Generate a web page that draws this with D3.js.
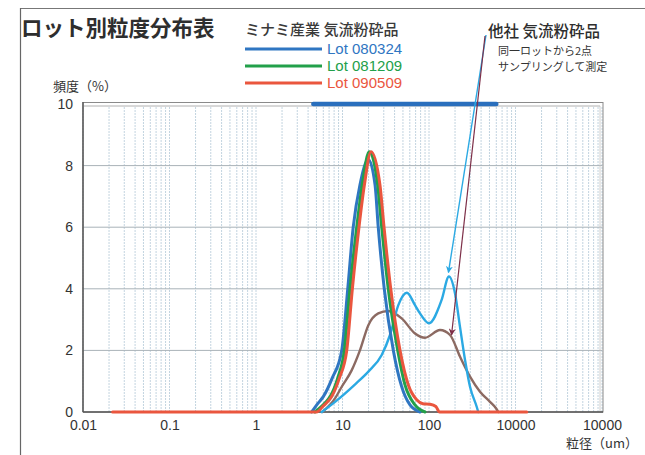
<!DOCTYPE html>
<html>
<head>
<meta charset="utf-8">
<script src="https://cdn.jsdelivr.net/npm/d3@7"></script>
<style>
  html, body { margin: 0; padding: 0; background: #fff; }
  svg text { font-family: "Liberation Sans", Arial, "Noto Sans CJK JP", sans-serif; }
  .jp { font-family: "Noto Sans CJK JP", sans-serif; }
</style>
</head>
<body>
<div id="chart"></div>
<script>
// particle size (um) / frequency (%)
const xTickValues = [0.01, 0.1, 1, 10, 100, 1000, 10000];
const xTickLabels = ["0.01", "0.1", "1", "10", "100", "10000", "10000"];
const yTickValues = [0, 2, 4, 6, 8, 10];

const legendLabels = ["Lot 080324", "Lot 081209", "Lot 090509"];

const lot080324 = [[4.4, 0], [5.2, 0.28], [6.0, 0.5], [7.6, 1.1], [9.8, 2.0], [11.5, 4.0], [13.3, 6.0],
  [15.9, 7.37], [19.9, 8.2], [23.8, 7.37], [25.9, 6.0], [30.4, 4.0], [38.7, 2.0], [48, 0.85],
  [60.3, 0.23], [78.7, 0]];

const lot081209 = [[4.8, 0], [6.3, 0.3], [7.2, 0.5], [8.8, 1.1], [10.5, 2.0], [12.2, 4.0], [14.6, 6.0],
  [16.9, 7.37], [20.4, 8.45], [25.5, 7.37], [28.4, 6.0], [33.8, 4.0], [43.5, 2.0], [52.8, 0.88],
  [68.9, 0.23], [89.9, 0]];

const lot090509 = [[0.022, 0], [5.0, 0], [6.0, 0.2], [7.5, 0.5], [9.2, 1.1], [11.2, 2.0], [13.0, 4.0],
  [15.5, 6.0], [17.9, 7.37], [21.4, 8.45], [27.1, 7.37], [30.2, 6.0], [36.1, 4.0], [46.2, 2.0],
  [57.7, 0.88], [72, 0.4], [85, 0.27], [103, 0.25], [120, 0.18], [132, 0], [1350, 0]];

// other company, two samples from the same lot
const otherSampleA = [[5.75, 0], [8.2, 0.33], [14, 0.9], [19.9, 1.31], [28.4, 1.85], [35.4, 2.5],
  [44.2, 3.47], [55.5, 3.87], [68.9, 3.47], [78.7, 3.2], [100, 2.88], [140, 3.64], [170, 4.4],
  [200, 3.85], [228, 2.77], [261, 1.69], [298, 0.82], [356, 0.17], [371, 0]];

const otherSampleB = [[5.84, 0], [8.2, 0.44], [9.8, 0.82], [12.8, 1.36], [15.9, 2.0], [19.9, 2.82],
  [25.9, 3.2], [33.8, 3.28], [48.3, 3.04], [68.9, 2.55], [90, 2.41], [134, 2.66], [175, 2.5],
  [228, 1.8], [298, 1.15], [389, 0.66], [507, 0.33], [595, 0.12], [633, 0]];

// blue line running along the top edge at 10 %
const topBar = [[4.6, 10], [600, 10]];

// arrow targets
const arrowTargetA = [170, 4.4];
const arrowTargetB = [175, 2.5];

const W = 645, H = 455;
const plot = { left: 83, right: 602, top: 104, bottom: 412 };

const colors = {
  lotBlue: "#2f76c2", lotGreen: "#22a04a", lotRed: "#ea563e",
  otherA: "#2ba9e3", otherB: "#8c6a62", arrowB: "#7d2f48"
};

const svg = d3.select("#chart").append("svg")
  .attr("width", W)
  .attr("height", H);

// page frame (scan edge)
svg.append("line").attr("x1", 20).attr("x2", 645).attr("y1", 8.5).attr("y2", 8.5)
  .attr("stroke", "#777").attr("stroke-width", 1.2);
svg.append("line").attr("x1", 20.5).attr("x2", 20.5).attr("y1", 8).attr("y2", H)
  .attr("stroke", "#666").attr("stroke-width", 1.2);

const x = d3.scaleLog().domain([0.01, 10000]).range([plot.left, plot.right]);
const y = d3.scaleLinear().domain([0, 10]).range([plot.bottom, plot.top]);

// grid
svg.append("g").selectAll("line")
  .data(x.ticks())
  .join("line")
  .attr("x1", d => x(d)).attr("x2", d => x(d))
  .attr("y1", plot.top + 3).attr("y2", plot.bottom)
  .attr("stroke", "#bccfdc").attr("stroke-width", 0.9)
  .attr("stroke-dasharray", "2,1");

svg.append("g").selectAll("line")
  .data([2, 4, 6, 8])
  .join("line")
  .attr("x1", plot.left).attr("x2", plot.right)
  .attr("y1", d => y(d)).attr("y2", d => y(d))
  .attr("stroke", "#a9b2b8").attr("stroke-width", 1);

// frame: double line on top and right, dark axis lines left and bottom
svg.append("rect")
  .attr("x", plot.left).attr("y", plot.top - 1.5)
  .attr("width", plot.right - plot.left + 1).attr("height", plot.bottom - plot.top + 1.5)
  .attr("fill", "none").attr("stroke", "#8a8a8a").attr("stroke-width", 1);
svg.append("line").attr("x1", plot.left).attr("x2", plot.right - 2)
  .attr("y1", plot.top + 2).attr("y2", plot.top + 2)
  .attr("stroke", "#b0b0b0").attr("stroke-width", 1);
svg.append("line").attr("x1", plot.right - 2).attr("x2", plot.right - 2)
  .attr("y1", plot.top + 2).attr("y2", plot.bottom)
  .attr("stroke", "#c4c4c4").attr("stroke-width", 0.8);
svg.append("line").attr("x1", plot.left).attr("x2", plot.left)
  .attr("y1", plot.top - 2).attr("y2", plot.bottom)
  .attr("stroke", "#555").attr("stroke-width", 1.4);
svg.append("line").attr("x1", plot.left).attr("x2", plot.right + 1)
  .attr("y1", plot.bottom).attr("y2", plot.bottom)
  .attr("stroke", "#555").attr("stroke-width", 1.4);

// axes (labels only)
const yAxis = svg.append("g")
  .attr("transform", `translate(${plot.left},0)`)
  .call(d3.axisLeft(y).tickValues(yTickValues).tickSize(0).tickPadding(10).tickFormat(d3.format("d")));
yAxis.select(".domain").remove();
yAxis.selectAll("text").attr("font-size", 14).attr("fill", "#333")
  .attr("font-family", "'Liberation Sans', Arial, sans-serif");

const xAxis = svg.append("g")
  .attr("transform", `translate(0,${plot.bottom})`)
  .call(d3.axisBottom(x).tickValues(xTickValues).tickSize(0).tickPadding(8)
    .tickFormat((d, i) => xTickLabels[i]));
xAxis.select(".domain").remove();
xAxis.selectAll("text").attr("font-size", 14).attr("fill", "#333")
  .attr("font-family", "'Liberation Sans', Arial, sans-serif");

// curves
const line = d3.line()
  .x(d => x(d[0]))
  .y(d => y(d[1]))
  .curve(d3.curveMonotoneX);

const series = [
  { data: otherSampleB, color: colors.otherB, width: 2.4 },
  { data: otherSampleA, color: colors.otherA, width: 2.4 },
  { data: lot080324, color: colors.lotBlue, width: 3 },
  { data: lot081209, color: colors.lotGreen, width: 3 },
  { data: lot090509, color: colors.lotRed, width: 3 },
  { data: topBar, color: "#2a6fbd", width: 4.5 }
];

svg.append("g").selectAll("path")
  .data(series)
  .join("path")
  .attr("d", d => line(d.data))
  .attr("fill", "none")
  .attr("stroke", d => d.color)
  .attr("stroke-width", d => d.width)
  .attr("stroke-linejoin", "round")
  .attr("stroke-linecap", "round");

// arrows from the annotation
const defs = svg.append("defs");
[["arrA", colors.otherA], ["arrB", colors.arrowB]].forEach(([id, c]) => {
  defs.append("marker")
    .attr("id", id)
    .attr("viewBox", "0 0 10 10")
    .attr("refX", 9).attr("refY", 5)
    .attr("markerWidth", 7).attr("markerHeight", 7)
    .attr("markerUnits", "userSpaceOnUse")
    .attr("orient", "auto")
    .append("path")
    .attr("d", "M0,0 L10,5 L0,10 L3,5 Z")
    .attr("fill", c);
});

svg.append("line")
  .attr("x1", 486).attr("y1", 35)
  .attr("x2", x(arrowTargetA[0]) - 0.5).attr("y2", y(arrowTargetA[1]) - 4)
  .attr("stroke", colors.otherA).attr("stroke-width", 1.4)
  .attr("marker-end", "url(#arrA)");
svg.append("line")
  .attr("x1", 485).attr("y1", 36)
  .attr("x2", x(arrowTargetB[0]) + 1.5).attr("y2", y(arrowTargetB[1]))
  .attr("stroke", colors.arrowB).attr("stroke-width", 1.2)
  .attr("marker-end", "url(#arrB)");

// titles and labels
svg.append("text").attr("class", "jp")
  .attr("x", 21).attr("y", 36)
  .attr("font-size", 21.5).attr("font-weight", "bold").attr("fill", "#2e2e2e")
  .text("ロット別粒度分布表");

svg.append("text").attr("class", "jp")
  .attr("x", 245).attr("y", 35)
  .attr("font-size", 15).attr("font-weight", "500").attr("fill", "#3a3a3a")
  .text("ミナミ産業 気流粉砕品");

const legendColors = [colors.lotBlue, colors.lotGreen, colors.lotRed];
const legendY = [49, 66, 83];
legendLabels.forEach((label, i) => {
  svg.append("line")
    .attr("x1", 245).attr("x2", 322)
    .attr("y1", legendY[i]).attr("y2", legendY[i])
    .attr("stroke", legendColors[i]).attr("stroke-width", 3);
  svg.append("text")
    .attr("x", 327).attr("y", legendY[i] + 5)
    .attr("font-size", 15).attr("fill", legendColors[i])
    .text(label);
});

svg.append("text").attr("class", "jp")
  .attr("x", 488).attr("y", 37)
  .attr("font-size", 15.5).attr("font-weight", "500").attr("fill", "#2e2e2e")
  .text("他社 気流粉砕品");
svg.append("text").attr("class", "jp")
  .attr("x", 498).attr("y", 55)
  .attr("font-size", 11).attr("fill", "#333")
  .text("同一ロットから2点");
svg.append("text").attr("class", "jp")
  .attr("x", 498).attr("y", 71)
  .attr("font-size", 11).attr("fill", "#333")
  .text("サンプリングして測定");

svg.append("text").attr("class", "jp")
  .attr("x", 53).attr("y", 91)
  .attr("font-size", 13).attr("fill", "#333")
  .text("頻度（%）");

svg.append("text").attr("class", "jp")
  .attr("x", 638).attr("y", 448)
  .attr("text-anchor", "end")
  .attr("font-size", 13).attr("fill", "#333")
  .text("粒径（um）");
</script>
</body>
</html>
